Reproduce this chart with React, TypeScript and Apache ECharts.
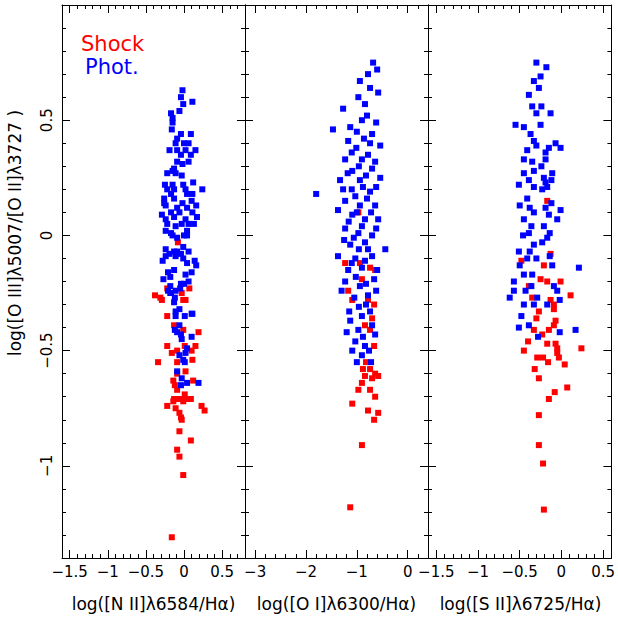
import React, { useEffect, useRef } from "react";
import * as echarts from "echarts";

// ---- axis ranges & ticks ----
const yRange = [-1.4, 1.0];
const yMajor = [-1, -0.5, 0, 0.5];
const p1Range = [-1.6, 0.8];
const p2Range = [-3.2, 0.4];
const p3Range = [-1.6, 0.6];
const p1Major = [-1.5, -1, -0.5, 0, 0.5];
const p2Major = [-3, -2, -1, 0];
const p3Major = [-1.5, -1, -0.5, 0, 0.5];

const xTitles = ["log([N II]λ6584/Hα)", "log([O I]λ6300/Hα)", "log([S II]λ6725/Hα)"];
const yTitle = "log([O III]λ5007/[O II]λ3727 )";
const legendLabels = ["Shock", "Phot."];

// ---- data: [x, y] ----
const p1Phot = [
  [-0.02, 0.63], [-0.04, 0.6], [0.11, 0.58], [-0.01, 0.57], [-0.06, 0.54], [-0.17, 0.53], [-0.15, 0.51],
  [-0.15, 0.49], [-0.16, 0.46], [-0.04, 0.44], [0.09, 0.44], [-0.09, 0.42], [-0.11, 0.4], [0.0, 0.4],
  [0.06, 0.4], [-0.19, 0.37], [-0.09, 0.37], [0.02, 0.37], [0.15, 0.37], [-0.04, 0.35], [0.09, 0.35],
  [-0.09, 0.32], [-0.02, 0.31], [0.06, 0.32], [-0.13, 0.29], [-0.15, 0.28], [-0.22, 0.27], [-0.11, 0.27],
  [-0.03, 0.26], [0.12, 0.23], [-0.25, 0.22], [-0.15, 0.22], [-0.01, 0.22], [-0.22, 0.2], [-0.13, 0.2],
  [0.02, 0.2], [0.24, 0.2], [-0.17, 0.18], [0.04, 0.18], [0.11, 0.18], [-0.26, 0.16], [-0.13, 0.16],
  [-0.26, 0.14], [-0.02, 0.14], [0.1, 0.15], [-0.24, 0.13], [-0.09, 0.12], [0.04, 0.12], [0.16, 0.13],
  [-0.29, 0.09], [-0.17, 0.1], [-0.06, 0.1], [0.11, 0.1], [-0.24, 0.07], [-0.13, 0.08], [0.02, 0.07],
  [0.17, 0.08], [-0.22, 0.05], [-0.11, 0.04], [-0.03, 0.05], [0.06, 0.05], [0.13, 0.05], [-0.24, 0.02],
  [-0.17, 0.01], [0.04, 0.02], [-0.09, -0.01], [-0.15, 0.0], [0.0, 0.0], [0.04, 0.0], [-0.01, -0.05],
  [-0.24, -0.06], [-0.13, -0.07], [-0.09, -0.07], [0.06, -0.07], [-0.19, -0.08], [-0.04, -0.08],
  [-0.24, -0.09], [-0.11, -0.09], [-0.01, -0.1], [-0.28, -0.11], [0.04, -0.12], [0.14, -0.11],
  [0.16, -0.13], [-0.13, -0.15], [-0.21, -0.16], [0.1, -0.16], [0.02, -0.17], [-0.27, -0.19],
  [-0.18, -0.18], [-0.04, -0.21], [0.06, -0.2], [0.0, -0.21], [-0.18, -0.22], [-0.21, -0.24],
  [-0.11, -0.24], [-0.05, -0.23], [-0.17, -0.25], [-0.12, -0.27], [-0.18, -0.25], [-0.13, -0.29],
  [-0.06, -0.32], [-0.11, -0.33], [-0.11, -0.35], [0.01, -0.35], [0.1, -0.34], [0.11, -0.34],
  [-0.06, -0.39], [-0.12, -0.41], [-0.09, -0.42], [-0.04, -0.43], [-0.03, -0.45], [0.1, -0.44],
  [0.04, -0.49], [0.02, -0.51], [-0.06, -0.52], [-0.01, -0.54], [0.01, -0.55], [-0.09, -0.59],
  [-0.03, -0.62], [0.04, -0.64], [0.19, -0.64], [-0.04, -0.65],
];
const p1Shock = [
  [-0.08, -0.03], [-0.22, -0.23], [0.07, -0.23], [-0.38, -0.26], [-0.31, -0.27], [-0.29, -0.28],
  [-0.03, -0.25], [-0.01, -0.28], [0.02, -0.28], [-0.22, -0.35], [-0.13, -0.39], [-0.01, -0.41],
  [0.19, -0.42], [-0.22, -0.48], [0.01, -0.48], [0.15, -0.48], [-0.16, -0.51], [-0.09, -0.5],
  [0.1, -0.5], [-0.34, -0.55], [-0.09, -0.55], [0.11, -0.54], [-0.09, -0.6], [0.02, -0.59],
  [-0.14, -0.63], [-0.12, -0.65], [-0.09, -0.67], [0.12, -0.63], [0.01, -0.69], [-0.13, -0.71],
  [-0.02, -0.71], [0.09, -0.71], [0.04, -0.71], [-0.14, -0.72], [-0.09, -0.71], [-0.01, -0.72],
  [-0.22, -0.74], [0.23, -0.74], [0.27, -0.76], [-0.11, -0.75], [-0.06, -0.77], [-0.04, -0.79],
  [-0.03, -0.8], [-0.06, -0.85], [0.09, -0.89], [-0.09, -0.93], [-0.06, -0.96], [-0.01, -1.04],
  [-0.16, -1.31],
];
const p2Phot = [
  [-0.68, 0.75], [-0.6, 0.72], [-0.78, 0.7], [-0.94, 0.67], [-0.74, 0.64], [-0.97, 0.6], [-0.58, 0.62],
  [-0.84, 0.57], [-1.27, 0.55], [-1.47, 0.46], [-1.13, 0.47], [-0.9, 0.5], [-0.62, 0.49], [-1.17, 0.41],
  [-0.74, 0.4], [-1.01, 0.38], [-0.54, 0.39], [-1.23, 0.33], [-0.9, 0.33], [-0.64, 0.32], [-1.09, 0.28],
  [-1.33, 0.24], [-0.94, 0.24], [-0.82, 0.26], [-0.54, 0.25], [-1.8, 0.18], [-1.27, 0.2], [-1.03, 0.17],
  [-0.74, 0.19], [-1.23, 0.15], [-0.94, 0.13], [-0.64, 0.13], [-1.37, 0.11], [-1.09, 0.09], [-0.84, 0.07],
  [-0.58, 0.07], [-1.23, 0.03], [-0.97, 0.01], [-0.7, 0.0], [-1.13, -0.04], [-0.84, -0.03], [-1.37, -0.09],
  [-1.03, -0.1], [-0.7, -0.09], [-0.44, -0.06], [-1.17, -0.15], [-0.9, -0.14], [-0.6, -0.15],
  [-1.23, -0.2], [-0.94, -0.22], [-1.05, -0.27], [-0.78, -0.26], [-1.15, -0.33], [-0.9, -0.35],
  [-0.97, -0.41], [-1.13, -0.37], [-0.82, -0.3], [-0.7, -0.39], [-1.03, -0.46], [-0.84, -0.48],
  [-0.64, -0.43], [-1.09, -0.5], [-0.9, -0.52], [-0.72, -0.55],
  [-0.8, 0.52], [-1.0, 0.45], [-0.7, 0.44], [-0.86, 0.42], [-1.1, 0.36], [-0.78, 0.35], [-0.96, 0.3],
  [-0.7, 0.29], [-1.18, 0.27], [-0.88, 0.21], [-0.62, 0.21], [-1.1, 0.2], [-0.8, 0.16], [-1.0, 0.1],
  [-0.72, 0.1], [-1.16, 0.06], [-0.9, 0.04], [-0.62, 0.03], [-1.06, -0.01], [-0.78, -0.06], [-0.96, -0.06],
  [-1.25, -0.02], [-0.84, -0.11], [-1.1, -0.12], [-0.66, -0.19], [-1.02, -0.18], [-0.82, -0.21],
  [-1.3, -0.24], [-0.96, -0.31], [-0.74, -0.33], [-1.2, -0.42], [-0.88, -0.44], [-0.76, -0.5],
  [-1.0, -0.55], [-0.62, -0.24],
];
const p2Shock = [
  [-0.97, 0.1], [-1.23, -0.12], [-0.94, -0.12], [-0.74, -0.14], [-1.17, -0.24], [-1.09, -0.28],
  [-0.9, -0.19], [-0.64, -0.15], [-0.78, -0.28], [-0.66, -0.3], [-0.7, -0.36], [-0.84, -0.39],
  [-0.74, -0.41], [-0.66, -0.48], [-0.82, -0.55], [-0.88, -0.58], [-0.74, -0.58], [-0.64, -0.6],
  [-0.84, -0.61], [-0.7, -0.62], [-0.58, -0.61], [-0.9, -0.64], [-0.74, -0.67], [-0.97, -0.67],
  [-1.09, -0.73], [-0.64, -0.7], [-0.58, -0.77], [-0.66, -0.8], [-0.9, -0.91], [-1.13, -1.18],
  [-0.78, -0.76],
];
const p3Phot = [
  [-0.3, 0.75], [-0.33, 0.67], [-0.39, 0.61], [-0.3, 0.53], [-0.55, 0.48], [-0.45, 0.47], [-0.33, 0.41],
  [-0.41, 0.37], [-0.45, 0.33], [-0.33, 0.28], [-0.39, 0.24], [-0.51, 0.22], [-0.41, 0.16], [-0.33, 0.1],
  [-0.45, 0.07], [-0.39, 0.01], [-0.33, -0.04], [-0.51, -0.07], [-0.41, -0.1], [-0.45, -0.17],
  [-0.57, -0.2], [-0.36, -0.22], [-0.57, -0.24], [-0.29, -0.27], [-0.45, -0.3], [-0.39, -0.39],
  [-0.51, -0.4],
  [-0.35, 0.56], [-0.37, 0.44], [-0.3, 0.39], [-0.35, 0.32], [-0.45, 0.27], [-0.33, 0.21], [-0.5, 0.13],
  [-0.38, 0.12], [-0.36, 0.04], [-0.46, 0.0], [-0.38, -0.07], [-0.3, -0.1], [-0.5, -0.13], [-0.35, -0.17],
  [-0.43, -0.24], [-0.62, -0.27], [-0.33, -0.3], [-0.48, -0.35], [-0.28, -0.44],
  [-0.18, 0.73], [-0.25, 0.69], [-0.27, 0.64], [-0.24, 0.56], [-0.13, 0.53], [-0.25, 0.48], [-0.07, 0.4],
  [-0.01, 0.38], [-0.15, 0.38], [-0.19, 0.36], [-0.19, 0.33], [-0.24, 0.3], [-0.11, 0.27], [-0.21, 0.25],
  [-0.12, 0.24], [-0.19, 0.23], [-0.17, 0.21], [-0.23, 0.2], [-0.12, 0.14], [-0.19, 0.12], [-0.01, 0.11],
  [-0.15, 0.09], [-0.05, 0.07], [-0.21, 0.04], [-0.14, 0.01], [-0.17, -0.01], [-0.23, -0.03],
  [-0.14, -0.09], [-0.11, -0.13], [0.21, -0.14], [-0.09, -0.22], [-0.05, -0.24], [-0.02, -0.28],
  [-0.17, -0.3], [-0.02, -0.42], [0.17, -0.41],
];
const p3Shock = [
  [-0.48, -0.11], [-0.39, -0.22], [-0.33, -0.41], [-0.45, -0.5], [-0.29, -0.53], [-0.27, -0.33],
  [-0.27, -0.91], [-0.21, -1.19], [-0.35, -0.27], [-0.3, -0.36], [-0.4, -0.46], [-0.32, -0.58],
  [-0.27, -0.62],
  [-0.17, 0.15], [-0.13, -0.08], [-0.21, -0.13], [-0.25, -0.19], [-0.17, -0.2], [-0.01, -0.2],
  [0.11, -0.26], [-0.13, -0.28], [-0.09, -0.3], [-0.09, -0.32], [-0.07, -0.37], [-0.15, -0.41],
  [-0.09, -0.39], [-0.23, -0.43], [-0.17, -0.47], [-0.07, -0.47], [0.24, -0.49], [-0.05, -0.49],
  [-0.22, -0.53], [-0.05, -0.51], [-0.03, -0.53], [-0.16, -0.55], [0.04, -0.56], [0.07, -0.66],
  [-0.08, -0.68], [-0.15, -0.71], [-0.27, -0.78], [-0.22, -0.99],
];

const RED = "#ff0000";
const BLUE = "#0000ff";
const FONT = "DejaVu Sans";

function steps(min: number, max: number, step: number) {
  const out: number[] = [];
  const n = Math.round((max - min) / step);
  for (let i = 0; i <= n; i++) out.push(Math.round((min + i * step) * 1000) / 1000);
  return out;
}

const fmt = (v: number) => (v < 0 ? "\u2212" + String(Math.abs(v)) : String(v));
const line = { color: "#000", width: 1 };

function makeAxes(kind: "x" | "y", g: number, range: number[], majors: number[], minorStep: number, labels: boolean) {
  const minors = steps(range[0], range[1], minorStep);
  const sides = kind === "x" ? ["bottom", "top"] : ["left", "right"];
  const out: any[] = [];
  sides.forEach((pos, si) => {
    const base = {
      type: "value",
      gridIndex: g,
      position: pos,
      min: range[0],
      max: range[1],
      splitLine: { show: false },
      minorTick: { show: false },
    };
    out.push({
      ...base,
      axisLine: { show: true, onZero: false, lineStyle: line },
      axisTick: { show: true, inside: true, length: 8, customValues: majors, lineStyle: line },
      axisLabel: {
        show: labels && si === 0,
        customValues: majors,
        formatter: fmt,
        margin: kind === "x" ? 6 : 8,
        rotate: kind === "y" ? 90 : 0,
        fontSize: 15,
        fontFamily: FONT,
        color: "#000",
      },
    });
    out.push({
      ...base,
      axisLine: { show: false, onZero: false },
      axisTick: { show: true, inside: true, length: 4, customValues: minors, lineStyle: line },
      axisLabel: { show: false },
    });
  });
  return out;
}

export default function App() {
  const ref = useRef<HTMLDivElement>(null);
  useEffect(() => {
    if (!ref.current) return;
    const chart = echarts.init(ref.current, null, { renderer: "svg" });
    const grids = [
      { left: 62, top: 5, width: 183, height: 553 },
      { left: 245, top: 5, width: 183, height: 553 },
      { left: 428, top: 5, width: 185, height: 553 },
    ];
    const xAxis = [
      ...makeAxes("x", 0, p1Range, p1Major, 0.1, true),
      ...makeAxes("x", 1, p2Range, p2Major, 0.2, true),
      ...makeAxes("x", 2, p3Range, p3Major, 0.1, true),
    ];
    const yAxis = [
      ...makeAxes("y", 0, yRange, yMajor, 0.1, true),
      ...makeAxes("y", 1, yRange, yMajor, 0.1, false),
      ...makeAxes("y", 2, yRange, yMajor, 0.1, false),
    ];
    const panels = [
      [p1Shock, p1Phot],
      [p2Shock, p2Phot],
      [p3Shock, p3Phot],
    ];
    const series: any[] = [];
    panels.forEach(([shock, phot], i) => {
      series.push({
        type: "scatter",
        xAxisIndex: i * 4,
        yAxisIndex: i * 4,
        data: shock,
        symbol: "rect",
        symbolSize: 6,
        itemStyle: { color: RED, opacity: 1 },
        silent: true,
      });
      series.push({
        type: "scatter",
        xAxisIndex: i * 4,
        yAxisIndex: i * 4,
        data: phot,
        symbol: "rect",
        symbolSize: 6,
        itemStyle: { color: BLUE, opacity: 1 },
        silent: true,
      });
    });
    const centers = [153.5, 336.5, 520.5];
    const graphic: any[] = [
      ...xTitles.map((t, i) => ({
        type: "text",
        x: centers[i],
        y: 604,
        style: { text: t, fontSize: 17, fontFamily: FONT, fill: "#000", textAlign: "center", textVerticalAlign: "middle" },
      })),
      {
        type: "text",
        x: 15,
        y: 233,
        rotation: Math.PI / 2,
        style: { text: yTitle, fontSize: 17, fontFamily: FONT, fill: "#000", textAlign: "center", textVerticalAlign: "middle" },
      },
      {
        type: "text",
        x: 81,
        y: 44,
        style: { text: legendLabels[0], fontSize: 21, fontFamily: FONT, fill: RED, textAlign: "left", textVerticalAlign: "middle" },
      },
      {
        type: "text",
        x: 85,
        y: 67,
        style: { text: legendLabels[1], fontSize: 21, fontFamily: FONT, fill: BLUE, textAlign: "left", textVerticalAlign: "middle" },
      },
    ];
    chart.setOption({
      animation: false,
      backgroundColor: "#fff",
      grid: grids,
      xAxis,
      yAxis,
      series,
      graphic,
    });
    return () => chart.dispose();
  }, []);
  return <div ref={ref} style={{ position: "absolute", left: 0, top: 0, width: 618, height: 623 }} />;
}
